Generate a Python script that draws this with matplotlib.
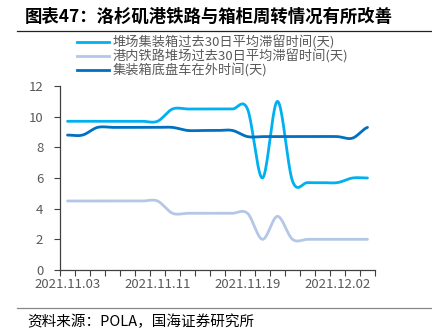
import numpy as np
import matplotlib
matplotlib.use("Agg")
import matplotlib.pyplot as plt
from matplotlib.lines import Line2D

plt.rcParams['font.family'] = ['Noto Sans CJK SC', 'DejaVu Sans']

# data
dates = ['2021.11.03', '2021.11.04', '2021.11.05', '2021.11.08', '2021.11.09', '2021.11.10',
         '2021.11.11', '2021.11.12', '2021.11.15', '2021.11.16', '2021.11.17', '2021.11.18',
         '2021.11.19', '2021.11.22', '2021.11.23', '2021.11.24', '2021.11.30', '2021.12.01',
         '2021.12.02', '2021.12.03', '2021.12.06']
yard_dwell = [9.7, 9.7, 9.7, 9.7, 9.7, 9.7, 9.7, 10.5, 10.5, 10.5, 10.5, 10.5,
              10.5, 6.0, 11.0, 5.8, 5.7, 5.7, 5.7, 6.0, 6.0]
rail_dwell = [4.5, 4.5, 4.5, 4.5, 4.5, 4.5, 4.5, 3.7, 3.7, 3.7, 3.7, 3.7,
              3.7, 2.0, 3.5, 2.0, 2.0, 2.0, 2.0, 2.0, 2.0]
chassis_days = [8.8, 8.8, 9.3, 9.3, 9.3, 9.3, 9.3, 9.3, 9.1, 9.1, 9.1, 9.1,
                8.7, 8.7, 8.7, 8.7, 8.7, 8.7, 8.7, 8.6, 9.3]
labels = ['堆场集装箱过去30日平均滞留时间(天)', '港内铁路堆场过去30日平均滞留时间(天)',
          '集装箱底盘车在外时间(天)']
colors = ['#00B0F0', '#B4C7E7', '#0070C0']
tick_idx = [0, 6, 12, 18]


def smooth(y, n=20):
    # catmull-rom curve through the points, like Excel's smoothed line
    y = np.asarray(y, float)
    p = np.concatenate([[y[0]], y, [y[-1]]])
    xs, ys = [], []
    for i in range(len(y) - 1):
        t = np.linspace(0, 1, n, endpoint=False)
        p0, p1, p2, p3 = p[i], p[i + 1], p[i + 2], p[i + 3]
        m1 = (p2 - p0) / 2
        m2 = (p3 - p1) / 2
        h00 = 2 * t**3 - 3 * t**2 + 1
        h10 = t**3 - 2 * t**2 + t
        h01 = -2 * t**3 + 3 * t**2
        h11 = t**3 - t**2
        xs.append(i + t)
        ys.append(h00 * p1 + h10 * m1 + h01 * p2 + h11 * m2)
    xs.append([len(y) - 1])
    ys.append([y[-1]])
    return np.concatenate(xs), np.concatenate(ys)


fig = plt.figure(figsize=(4.32, 3.33), dpi=100)
ax = fig.add_axes([60 / 432, 63 / 333, 315 / 432, 184 / 333])

gray = '#595959'
for series, c in zip([yard_dwell, rail_dwell, chassis_days], colors):
    sx, sy = smooth(series)
    ax.plot(sx, sy, color=c, lw=2.0, solid_capstyle='round')

ax.set_xlim(-0.5, len(dates) - 0.5)
ax.set_ylim(0, 12)
ax.set_yticks(range(0, 13, 2))
ax.set_xticks(np.arange(-0.5, len(dates), 1))
ax.set_xticklabels([])
ax.set_xticks(tick_idx, minor=True)
ax.set_xticklabels([dates[i] for i in tick_idx], minor=True)
ax.tick_params(axis='x', which='major', length=4, width=0.8, color='#404040', direction='out')
ax.tick_params(axis='x', which='minor', length=0, labelsize=9.5, labelcolor=gray, pad=6)
ax.tick_params(axis='y', length=4, width=0.8, color='#404040', labelsize=9.5, labelcolor=gray, pad=8)
for s in ['top', 'right']:
    ax.spines[s].set_visible(False)
for s in ['left', 'bottom']:
    ax.spines[s].set_color('#404040')
    ax.spines[s].set_linewidth(0.9)

handles = [Line2D([], [], color=c, lw=2.0) for c in colors]
fig.legend(handles, labels, loc='upper left', bbox_to_anchor=(68 / 432, 1 - 26 / 333),
           frameon=False, fontsize=9.5, labelcolor=gray, handlelength=2.4,
           handletextpad=0.25, labelspacing=0.0, borderpad=0.2)

fig.text(25 / 432, 1 - 17 / 333, '图表47：洛杉矶港铁路与箱柜周转情况有所改善',
         fontsize=12.5, fontweight='bold', va='center', ha='left', color='black')
fig.add_artist(Line2D([17 / 432, 1], [1 - 31 / 333] * 2, color='#222222', lw=0.9))
fig.add_artist(Line2D([17 / 432, 1], [1 - 308 / 333] * 2, color='#888888', lw=0.9))
fig.text(27 / 432, 1 - 322 / 333, '资料来源：POLA，国海证券研究所',
         fontsize=10.5, va='center', ha='left', color='black')

fig.savefig('out.png', dpi=100)
